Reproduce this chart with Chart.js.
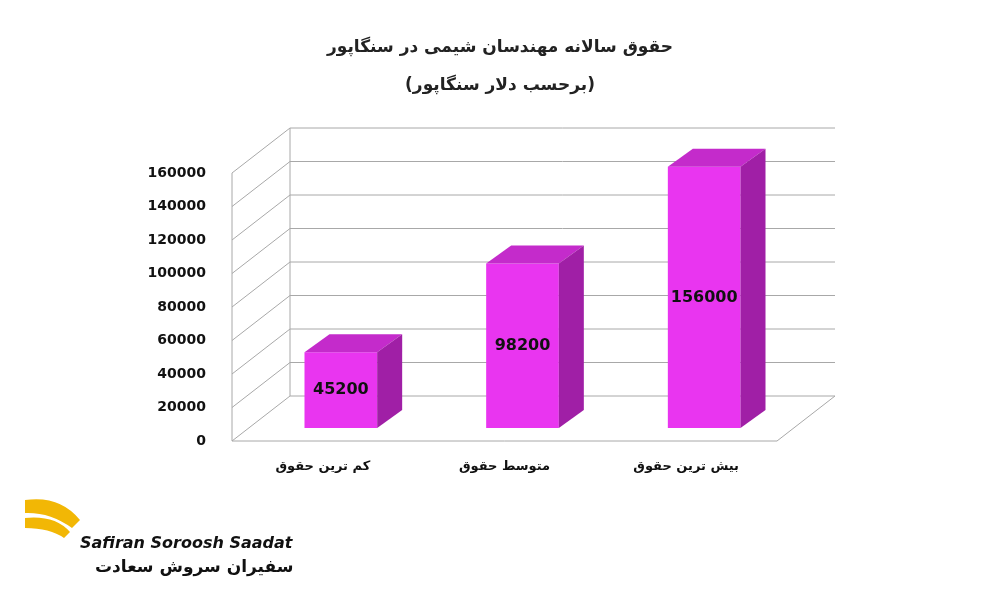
<!DOCTYPE html>
<html><head><meta charset="utf-8">
<script src="https://cdn.jsdelivr.net/npm/chart.js@4"></script>
<style>html,body{margin:0;background:#fff}#w{width:1000px;height:600px}</style>
</head><body><div id="w"><canvas id="c"></canvas></div>
<script>
const categories = ["کم ترین حقوق", "متوسط حقوق", "بیش ترین حقوق"];
const salaries = [45200, 98200, 156000];
const yTicks = [0, 20000, 40000, 60000, 80000, 100000, 120000, 140000, 160000];
const titleLines = ["حقوق سالانه مهندسان شیمی در سنگاپور", "(برحسب دلار سنگاپور)"];
const FA = '"DejaVu Sans", sans-serif';
const LIFT = -13;

const threeD = {
  id: 'threeD',
  beforeDatasetsDraw(chart) {
    const ctx = chart.ctx, a = chart.chartArea, y = chart.scales.y;
    const L = a.left - 18, R = a.right - 18, dx = 58, dy = -45;
    ctx.save();
    ctx.strokeStyle = '#a8a8a8'; ctx.lineWidth = 1;
    const y0 = y.getPixelForValue(0);
    ctx.beginPath();
    ctx.moveTo(L, y0); ctx.lineTo(L + dx, y0 + dy); ctx.lineTo(R + dx, y0 + dy); ctx.lineTo(R, y0); ctx.closePath();
    ctx.stroke();
    yTicks.forEach(t => {
      if (t === 0) return;
      const p = y.getPixelForValue(t);
      ctx.beginPath(); ctx.moveTo(L, p); ctx.lineTo(L + dx, p + dy); ctx.lineTo(R + dx, p + dy); ctx.stroke();
    });
    ctx.beginPath(); ctx.moveTo(L, y0); ctx.lineTo(L, y.getPixelForValue(160000)); ctx.stroke();
    ctx.beginPath(); ctx.moveTo(L + dx, y0 + dy); ctx.lineTo(L + dx, y.getPixelForValue(160000) + dy); ctx.stroke();
    ctx.restore();
    ctx.save();
    ctx.translate(0, LIFT);
  },
  afterDatasetsDraw(chart) {
    const ctx = chart.ctx, meta = chart.getDatasetMeta(0);
    const dx = 25, dy = -18;
    meta.data.forEach((b, i) => {
      const l = b.x - b.width / 2, r = b.x + b.width / 2, t = b.y, bo = b.base;
      ctx.fillStyle = '#c42bcb';
      ctx.beginPath(); ctx.moveTo(l, t); ctx.lineTo(l + dx, t + dy); ctx.lineTo(r + dx, t + dy); ctx.lineTo(r, t); ctx.closePath(); ctx.fill();
      ctx.fillStyle = '#a01fa6';
      ctx.beginPath(); ctx.moveTo(r, t); ctx.lineTo(r + dx, t + dy); ctx.lineTo(r + dx, bo + dy); ctx.lineTo(r, bo); ctx.closePath(); ctx.fill();
      ctx.fillStyle = '#111'; ctx.font = 'bold 16px "DejaVu Sans", sans-serif';
      ctx.textAlign = 'center'; ctx.textBaseline = 'middle';
      ctx.fillText(String(salaries[i]), b.x, (t + bo) / 2);
    });
    ctx.restore();
    ctx.save();
    ctx.font = 'bold 17px ' + FA; ctx.fillStyle = '#222'; ctx.textAlign = 'center'; ctx.textBaseline = 'middle';
    ctx.fillText(titleLines[0], 500, 48);
    ctx.fillText(titleLines[1], 500, 86);
    ctx.textAlign = 'left'; ctx.textBaseline = 'alphabetic';
    ctx.fillStyle = '#f2b705';
    ctx.beginPath(); ctx.moveTo(25, 500); ctx.quadraticCurveTo(60, 495, 80, 520); ctx.lineTo(72, 528); ctx.quadraticCurveTo(50, 512, 25, 513); ctx.closePath(); ctx.fill();
    ctx.beginPath(); ctx.moveTo(25, 518); ctx.quadraticCurveTo(55, 515, 70, 532); ctx.lineTo(64, 538); ctx.quadraticCurveTo(50, 528, 25, 528); ctx.closePath(); ctx.fill();
    ctx.fillStyle = '#111'; ctx.font = 'bold italic 16px "DejaVu Sans", sans-serif';
    ctx.fillText('Safiran Soroosh Saadat', 80, 548);
    ctx.font = 'bold 17px ' + FA;
    ctx.fillText('سفیران سروش سعادت', 95, 572);
    ctx.restore();
  }
};

new Chart(document.getElementById('c'), {
  type: 'bar',
  data: { labels: categories, datasets: [{ data: salaries, backgroundColor: '#e935f0', barPercentage: 0.4, categoryPercentage: 1 }] },
  options: {
    responsive: true, maintainAspectRatio: false, animation: false,
    layout: { padding: { left: 140, right: 205, top: 173, bottom: 119 } },
    plugins: { legend: { display: false }, tooltip: { enabled: false } },
    scales: {
      x: { grid: { display: false, drawTicks: false }, border: { display: false },
           ticks: { padding: 18, labelOffset: -18, color: '#111', font: { family: 'DejaVu Sans', weight: 'bold', size: 13 } },
           afterFit(s) { s.height = 40; } },
      y: { min: 0, max: 160000, grid: { display: false }, border: { display: false },
           afterBuildTicks(s) { s.ticks = yTicks.map(v => ({ value: v })); },
           ticks: { padding: 36, color: '#111', font: { family: 'DejaVu Sans', weight: 'bold', size: 14 }, callback: v => String(v) },
           afterFit(s) { s.width = 110; } }
    }
  },
  plugins: [threeD]
});
</script></body></html>
